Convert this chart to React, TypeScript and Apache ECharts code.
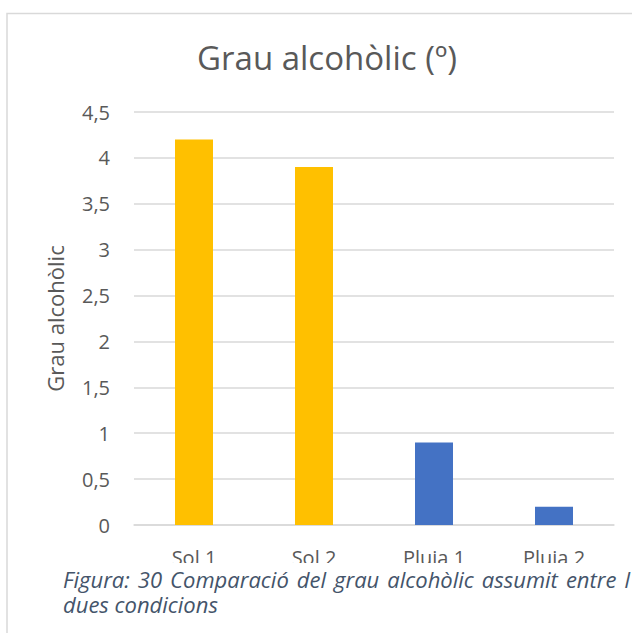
import React, { useEffect, useRef } from "react";
import * as echarts from "echarts";

const categories = ["Sol 1", "Sol 2", "Pluja 1", "Pluja 2"];
const values = [4.2, 3.9, 0.9, 0.2];
const barColors = ["#FFC000", "#FFC000", "#4472C4", "#4472C4"];
const titleText = "Grau alcohòlic (º)";
const yAxisName = "Grau alcohòlic";
const captionLine1 = ["Figura:", "30", "Comparació", "del", "grau", "alcohòlic", "assumit", "entre", "l"];
const captionLine2 = "dues condicions";

const FONT = "'Open Sans', 'Noto Sans', sans-serif";
const CAPTION_FONT = `italic 22px ${FONT}`;

function measure(text: string, font: string): number {
  const c = document.createElement("canvas").getContext("2d");
  if (!c) return text.length * 10;
  c.font = font;
  return c.measureText(text).width;
}

export default function App() {
  const ref = useRef<HTMLDivElement>(null);
  useEffect(() => {
    if (!ref.current) return;
    const chart = echarts.init(ref.current, undefined, { renderer: "svg" });
    // justified first caption line between left and right edges
    const leftEdge = 63;
    const rightEdge = 630;
    const widths = captionLine1.map((w) => measure(w, CAPTION_FONT));
    const total = widths.reduce((a, b) => a + b, 0);
    const gap = (rightEdge - leftEdge - total) / (captionLine1.length - 1);
    let cursor = leftEdge;
    const captionTexts: any[] = captionLine1.map((w, i) => {
      const el = {
        type: "text",
        x: cursor,
        y: 579,
        z: 30,
        style: {
          text: w,
          font: CAPTION_FONT,
          fill: "#44546A",
          verticalAlign: "middle",
          align: "left",
        },
      };
      cursor += widths[i] + gap;
      return el;
    });
    captionTexts.push({
      type: "text",
      x: leftEdge,
      y: 604,
      z: 30,
      style: {
        text: captionLine2,
        font: CAPTION_FONT,
        fill: "#44546A",
        verticalAlign: "middle",
        align: "left",
      },
    });
    chart.setOption({
      animation: false,
      backgroundColor: "#ffffff",
      title: {
        text: titleText,
        left: 322,
        textAlign: "center",
        top: 36,
        textStyle: {
          fontFamily: FONT,
          fontSize: 33,
          fontWeight: "normal",
          color: "#595959",
        },
      },
      grid: { left: 134, right: 18, top: 112, bottom: 108 },
      xAxis: {
        type: "category",
        data: categories,
        axisLine: { show: true, lineStyle: { color: "#d9d9d9", width: 1.5 } },
        axisTick: { show: false },
        axisLabel: {
          fontFamily: FONT,
          fontSize: 20,
          color: "#595959",
          margin: 22,
        },
      },
      yAxis: {
        type: "value",
        min: 0,
        max: 4.5,
        interval: 0.5,
        name: yAxisName,
        nameLocation: "middle",
        nameRotate: 90,
        nameGap: 68,
        nameTextStyle: { fontFamily: FONT, fontSize: 22, color: "#595959" },
        axisLine: { show: false },
        axisTick: { show: false },
        splitLine: { lineStyle: { color: "#d9d9d9", width: 1.5 } },
        axisLabel: {
          fontFamily: FONT,
          fontSize: 20,
          color: "#595959",
          margin: 24,
          formatter: (v: number) => String(v).replace(".", ","),
        },
      },
      series: [
        {
          type: "bar",
          data: values.map((v, i) => ({ value: v, itemStyle: { color: barColors[i] } })),
          barWidth: 38,
        },
      ],
      graphic: [
        {
          type: "rect",
          z: -10,
          silent: true,
          shape: { x: 7, y: 13.5, width: 700, height: 700 },
          style: { fill: "none", stroke: "#d9d9d9", lineWidth: 1.5 },
        },
        {
          type: "rect",
          z: 20,
          silent: true,
          shape: { x: 8, y: 563, width: 640, height: 80 },
          style: { fill: "#ffffff" },
        },
        ...captionTexts,
      ],
    });
    return () => chart.dispose();
  }, []);
  return (
    <div
      ref={ref}
      style={{ position: "fixed", left: 0, top: 0, width: 632, height: 633 }}
    />
  );
}
